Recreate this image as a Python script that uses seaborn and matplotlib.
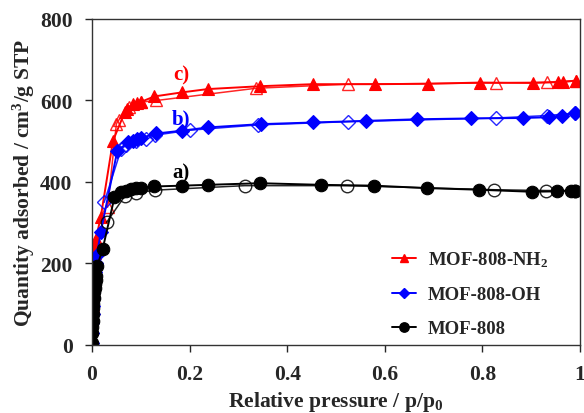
import matplotlib
matplotlib.use("Agg")
import matplotlib.pyplot as plt
import seaborn as sns
import pandas as pd

# ---- data ----
nh2_ads_x = [0.0003, 0.0006, 0.001, 0.0015, 0.002, 0.0025, 0.003, 0.0035, 0.004, 0.005, 0.006, 0.007, 0.008,
             0.018, 0.043, 0.067, 0.072, 0.084, 0.093, 0.101, 0.128, 0.185, 0.237, 0.344, 0.452, 0.58,
             0.688, 0.795, 0.903, 0.955, 0.965, 0.992]
nh2_ads_y = [0, 40, 70, 95, 120, 140, 160, 175, 190, 210, 225, 245, 260,
             314, 501, 571, 579, 591, 595, 597, 610, 620, 628, 635, 640, 640,
             641, 644, 643, 645, 645, 649]
nh2_des_x = [0.992, 0.932, 0.828, 0.524, 0.336, 0.132, 0.1, 0.075, 0.055, 0.05, 0.032]
nh2_des_y = [649, 645, 643, 640, 630, 600, 596, 585, 552, 543, 338]

oh_ads_x = [0.0003, 0.0006, 0.001, 0.0015, 0.002, 0.0025, 0.003, 0.004, 0.005, 0.006, 0.008, 0.01,
            0.018, 0.052, 0.074, 0.084, 0.093, 0.1, 0.132, 0.185, 0.238, 0.346, 0.452, 0.561,
            0.667, 0.776, 0.883, 0.937, 0.964, 0.99]
oh_ads_y = [5, 30, 55, 75, 95, 115, 130, 150, 165, 180, 200, 220,
            277, 477, 497, 500, 505, 508, 519, 526, 534, 542, 546, 550,
            554, 556, 557, 559, 563, 569]
oh_des_x = [0.99, 0.932, 0.828, 0.525, 0.34, 0.2, 0.13, 0.111, 0.09, 0.07, 0.06, 0.025]
oh_des_y = [569, 563, 557, 548, 540, 527, 515, 505, 500, 490, 481, 350]

mof_ads_x = [0.0002, 0.0005, 0.001, 0.0015, 0.002, 0.0025, 0.003, 0.004, 0.005, 0.006, 0.007, 0.008,
             0.009, 0.011, 0.022, 0.046, 0.06, 0.07, 0.08, 0.09, 0.1, 0.128, 0.185, 0.237, 0.344,
             0.47, 0.578, 0.686, 0.793, 0.901, 0.954, 0.981, 0.99]
mof_ads_y = [5, 30, 45, 60, 75, 90, 100, 115, 130, 140, 150, 160,
             170, 195, 236, 362, 375, 378, 383, 385, 385, 389, 391, 393, 397,
             393, 391, 385, 381, 376, 377, 379, 379]
mof_des_x = [0.99, 0.93, 0.824, 0.522, 0.313, 0.13, 0.09, 0.067, 0.03]
mof_des_y = [379, 379, 381, 391, 391, 380, 373, 365, 301]

labels = ["MOF-808-NH$_2$", "MOF-808-OH", "MOF-808"]
tags = ["c)", "b)", "a)"]
tag_y = [665, 555, 423]
colors = ["#ff0000", "#0000ff", "#000000"]
markers = ["^", "D", "o"]
msizes = [8.5, 7, 9]

series = [
    (nh2_ads_x, nh2_ads_y, nh2_des_x, nh2_des_y),
    (oh_ads_x, oh_ads_y, oh_des_x, oh_des_y),
    (mof_ads_x, mof_ads_y, mof_des_x, mof_des_y),
]

sns.set_style("ticks")
plt.rcParams["font.family"] = ["Liberation Serif", "DejaVu Serif"]
plt.rcParams["font.weight"] = "bold"
plt.rcParams["mathtext.fontset"] = "custom"
plt.rcParams["mathtext.rm"] = "Liberation Serif:bold"
plt.rcParams["mathtext.it"] = "Liberation Serif:bold"
plt.rcParams["mathtext.bf"] = "Liberation Serif:bold"

fig = plt.figure(figsize=(5.84, 4.14), dpi=100)
ax = fig.add_axes([0.1575, 0.1643, 0.8355, 0.7874])

handles = []
for (ax_x, ax_y, dx, dy), lab, col, mk, ms in zip(series, labels, colors, markers, msizes):
    d_des = pd.DataFrame({"p": dx, "q": dy})
    sns.lineplot(data=d_des, x="p", y="q", sort=False, estimator=None, ax=ax,
                 color=col, lw=1.1, marker=mk, markersize=ms, mfc="none", mec=col, mew=1.0,
                 alpha=0.85)
    d_ads = pd.DataFrame({"p": ax_x, "q": ax_y})
    sns.lineplot(data=d_ads, x="p", y="q", sort=False, estimator=None, ax=ax,
                 color=col, lw=1.4, marker=mk, markersize=ms, mfc=col, mec=col, mew=0.8)
    h, = ax.plot([], [], color=col, lw=1.4, marker=mk, markersize=ms * 0.75, mfc=col, mec=col)
    handles.append(h)

for t, ty, col in zip(tags, tag_y, colors):
    ax.text(0.183, ty, t, color=col, fontsize=15, fontweight="bold", ha="center", va="center")

ax.set_xlim(0, 1)
ax.set_ylim(0, 800)
ax.set_xticks([0, 0.2, 0.4, 0.6, 0.8, 1.0])
ax.set_xticklabels(["0", "0.2", "0.4", "0.6", "0.8", "1"])
ax.set_yticks([0, 200, 400, 600, 800])
ax.tick_params(direction="out", length=5, width=1, labelsize=15.5, pad=9)
for lbl in ax.get_xticklabels() + ax.get_yticklabels():
    lbl.set_fontweight("bold")
for s in ax.spines.values():
    s.set_linewidth(1.0)
    s.set_color("#333333")

ax.set_xlabel("Relative pressure / p/p$_0$", fontsize=15.5, fontweight="bold", labelpad=3)
ax.set_ylabel("Quantity adsorbed / cm$^3$/g STP", fontsize=15.5, fontweight="bold", labelpad=2)

leg = ax.legend(handles, labels, loc="lower left", bbox_to_anchor=(0.60, 0.0), frameon=False,
                handlelength=1.25, handletextpad=0.65, labelspacing=0.9, borderpad=0.4,
                borderaxespad=0.0, prop={"weight": "bold", "size": 13.5})

fig.savefig("out.png", dpi=100)
